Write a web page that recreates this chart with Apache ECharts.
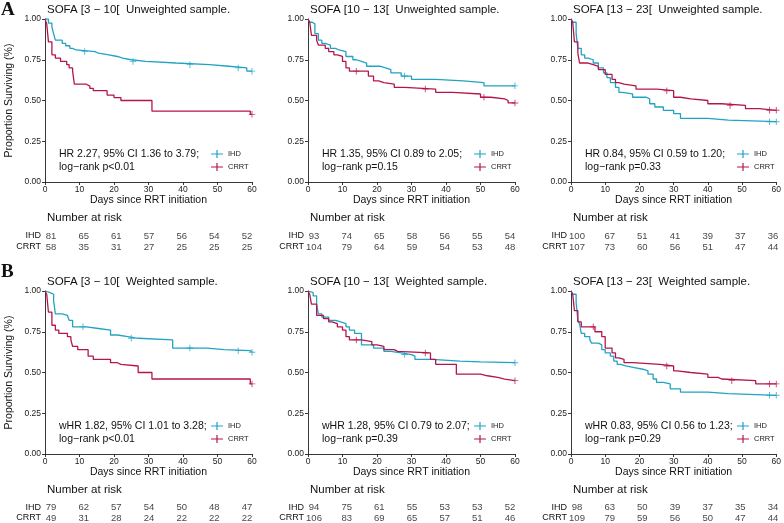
<!DOCTYPE html>
<html><head><meta charset="utf-8">
<script src="https://cdn.jsdelivr.net/npm/echarts@6/dist/echarts.min.js"></script>
<style>html,body{margin:0;padding:0;background:#fff}#c{width:784px;height:523px}</style>
</head><body><div id="c"></div>
<script>
// ---------- DATA ----------
const timeTicks = [0, 10, 20, 30, 40, 50, 60];
const groups = ['IHD', 'CRRT'];

const panelTitles = [
  'SOFA [3 \u2212 10[  Unweighted sample.',
  'SOFA [10 \u2212 13[  Unweighted sample.',
  'SOFA [13 \u2212 23[  Unweighted sample.',
  'SOFA [3 \u2212 10[  Weighted sample.',
  'SOFA [10 \u2212 13[  Weighted sample.',
  'SOFA [13 \u2212 23[  Weighted sample.'
];
const hrTexts = [
  'HR 2.27, 95% CI 1.36 to 3.79;', 'HR 1.35, 95% CI 0.89 to 2.05;', 'HR 0.84, 95% CI 0.59 to 1.20;',
  'wHR 1.82, 95% CI 1.01 to 3.28;', 'wHR 1.28, 95% CI 0.79 to 2.07;', 'wHR 0.83, 95% CI 0.56 to 1.23;'
];
const pTexts = ['log\u2212rank p<0.01', 'log\u2212rank p=0.15', 'log\u2212rank p=0.33',
                'log\u2212rank p<0.01', 'log\u2212rank p=0.39', 'log\u2212rank p=0.29'];

// Panel A1 (SOFA 3-10, unweighted)
const a1IhdT = [1, 2, 2.5, 3, 5, 6, 7.2, 8, 9, 14.5, 15.5, 18.5, 21, 22.5, 25, 29.2, 38, 47.7, 53.3, 58.5];
const a1IhdS = [0.975, 0.95, 0.91, 0.87, 0.85, 0.836, 0.82, 0.81, 0.80, 0.79, 0.78, 0.77, 0.76, 0.75, 0.74, 0.73, 0.72, 0.71, 0.70, 0.68];
const a1IhdC = [11.5, 25.5, 42, 56, 60];
const a1CrrtT = [0.5, 1, 2, 3, 4.5, 6.3, 7, 8, 8.5, 12, 13, 14, 18, 20, 22, 31, 59.5];
const a1CrrtS = [0.97, 0.86, 0.78, 0.76, 0.74, 0.72, 0.70, 0.68, 0.60, 0.588, 0.574, 0.56, 0.533, 0.518, 0.50, 0.435, 0.415];
const a1CrrtC = [60];

// Panel A2 (SOFA 10-13, unweighted)
const a2IhdT = [0.5, 1.2, 2, 3, 4, 5, 6.5, 8, 9, 11, 13, 14, 15.5, 17, 21, 22.5, 24, 27, 30, 37, 45, 51];
const a2IhdS = [0.98, 0.97, 0.91, 0.87, 0.85, 0.84, 0.82, 0.81, 0.80, 0.77, 0.75, 0.74, 0.73, 0.71, 0.70, 0.69, 0.67, 0.65, 0.63, 0.62, 0.61, 0.59];
const a2IhdC = [28, 60];
const a2CrrtT = [0.5, 1, 2.5, 3, 5, 6, 7.5, 8.5, 10, 11, 12, 17.5, 19, 20.5, 22, 25, 28, 37, 42, 50, 53, 57, 58];
const a2CrrtS = [0.98, 0.90, 0.87, 0.84, 0.82, 0.80, 0.78, 0.77, 0.74, 0.70, 0.68, 0.65, 0.62, 0.61, 0.60, 0.58, 0.57, 0.55, 0.54, 0.52, 0.51, 0.50, 0.485];
const a2CrrtC = [14, 34, 51, 60];

// Panel A3 (SOFA 13-23, unweighted)
const a3IhdT = [0.5, 1.5, 2, 3, 4, 5, 6.5, 8, 9.5, 10.5, 11.5, 13, 14, 15, 18, 22, 23, 24.5, 27, 30, 32, 40, 46];
const a3IhdS = [0.98, 0.91, 0.82, 0.78, 0.76, 0.75, 0.73, 0.70, 0.67, 0.64, 0.61, 0.58, 0.55, 0.54, 0.52, 0.51, 0.48, 0.46, 0.44, 0.42, 0.39, 0.38, 0.37];
const a3IhdC = [58, 60];
const a3CrrtT = [0.5, 1, 2, 2.5, 5, 6.5, 8, 10, 12, 13, 14, 15.5, 19, 25, 30, 32, 35, 40, 44, 51, 55];
const a3CrrtS = [0.98, 0.86, 0.79, 0.73, 0.72, 0.71, 0.69, 0.66, 0.63, 0.61, 0.60, 0.59, 0.57, 0.56, 0.52, 0.51, 0.50, 0.48, 0.47, 0.45, 0.44];
const a3CrrtC = [28, 46.5, 58, 60];

// Panel B1 (SOFA 3-10, weighted)
const b1IhdT = [0.5, 1.5, 2.5, 3, 5, 6.5, 7, 8, 12, 15.5, 19, 21, 24, 27, 37, 47, 52, 59.5];
const b1IhdS = [0.99, 0.98, 0.94, 0.86, 0.85, 0.84, 0.82, 0.78, 0.77, 0.76, 0.73, 0.72, 0.71, 0.70, 0.65, 0.64, 0.634, 0.624];
const b1IhdC = [11, 25, 42, 56, 60];
const b1CrrtT = [0.5, 1, 2, 3, 4, 6.5, 7.5, 8, 9.5, 12.5, 14, 19, 21, 22, 27, 31, 59.5];
const b1CrrtS = [0.98, 0.87, 0.79, 0.76, 0.74, 0.72, 0.70, 0.66, 0.64, 0.60, 0.58, 0.56, 0.55, 0.54, 0.50, 0.46, 0.43];
const b1CrrtC = [60];

// Panel B2 (SOFA 10-13, weighted)
const b2IhdT = [0.5, 1.5, 2.5, 3, 4, 6, 8, 9.5, 11, 12, 13.5, 15.5, 19, 22, 24, 27, 30, 31, 36, 44, 50];
const b2IhdS = [0.99, 0.97, 0.92, 0.86, 0.84, 0.82, 0.81, 0.80, 0.78, 0.76, 0.74, 0.67, 0.65, 0.63, 0.62, 0.61, 0.60, 0.58, 0.57, 0.565, 0.56];
const b2IhdC = [28, 60];
const b2CrrtT = [0.5, 1, 2.5, 4.5, 6, 7, 8.5, 10, 11, 12, 15.5, 18.5, 20, 22, 25, 26, 35.5, 37, 43, 50, 52, 55, 57];
const b2CrrtS = [0.98, 0.92, 0.85, 0.83, 0.81, 0.80, 0.78, 0.76, 0.72, 0.70, 0.69, 0.67, 0.66, 0.64, 0.63, 0.62, 0.58, 0.55, 0.49, 0.48, 0.47, 0.46, 0.45];
const b2CrrtC = [14, 34, 60];

// Panel B3 (SOFA 13-23, weighted)
const b3IhdT = [0.5, 1.5, 2, 2.5, 3, 4, 5.5, 6, 8, 9, 10, 11.5, 12.5, 13.5, 14.5, 16, 18.5, 21, 22.5, 24, 25, 27, 29, 32, 40, 46];
const b3IhdS = [0.98, 0.93, 0.82, 0.80, 0.74, 0.72, 0.70, 0.68, 0.67, 0.64, 0.62, 0.60, 0.57, 0.55, 0.54, 0.53, 0.52, 0.51, 0.49, 0.46, 0.44, 0.43, 0.40, 0.38, 0.37, 0.36];
const b3IhdC = [58, 60];
const b3CrrtT = [0.5, 1, 2, 3, 7, 9, 10, 12, 13, 14, 15.5, 18, 26, 30, 31, 35, 40, 43, 44, 54];
const b3CrrtS = [0.98, 0.88, 0.81, 0.78, 0.75, 0.72, 0.65, 0.62, 0.59, 0.58, 0.56, 0.55, 0.54, 0.51, 0.50, 0.49, 0.47, 0.46, 0.45, 0.43];
const b3CrrtC = [6.5, 28, 47, 58, 60];

// Numbers at risk (at timeTicks)
const a1RiskIhd = [81, 65, 61, 57, 56, 54, 52];
const a1RiskCrrt = [58, 35, 31, 27, 25, 25, 25];
const a2RiskIhd = [93, 74, 65, 58, 56, 55, 54];
const a2RiskCrrt = [104, 79, 64, 59, 54, 53, 48];
const a3RiskIhd = [100, 67, 51, 41, 39, 37, 36];
const a3RiskCrrt = [107, 73, 60, 56, 51, 47, 44];
const b1RiskIhd = [79, 62, 57, 54, 50, 48, 47];
const b1RiskCrrt = [49, 31, 28, 24, 22, 22, 22];
const b2RiskIhd = [94, 75, 61, 55, 53, 53, 52];
const b2RiskCrrt = [106, 83, 69, 65, 57, 51, 46];
const b3RiskIhd = [98, 63, 50, 39, 37, 35, 34];
const b3RiskCrrt = [109, 79, 59, 56, 50, 47, 44];

// ---------- BUILD ----------
const curves = [
  [[a1IhdT, a1IhdS, a1IhdC], [a1CrrtT, a1CrrtS, a1CrrtC]],
  [[a2IhdT, a2IhdS, a2IhdC], [a2CrrtT, a2CrrtS, a2CrrtC]],
  [[a3IhdT, a3IhdS, a3IhdC], [a3CrrtT, a3CrrtS, a3CrrtC]],
  [[b1IhdT, b1IhdS, b1IhdC], [b1CrrtT, b1CrrtS, b1CrrtC]],
  [[b2IhdT, b2IhdS, b2IhdC], [b2CrrtT, b2CrrtS, b2CrrtC]],
  [[b3IhdT, b3IhdS, b3IhdC], [b3CrrtT, b3CrrtS, b3CrrtC]]
];
const risks = [
  [a1RiskIhd, a1RiskCrrt], [a2RiskIhd, a2RiskCrrt], [a3RiskIhd, a3RiskCrrt],
  [b1RiskIhd, b1RiskCrrt], [b2RiskIhd, b2RiskCrrt], [b3RiskIhd, b3RiskCrrt]
];

const colors = ['#21A3C3', '#B5164A'];
const FONT = 'Liberation Sans, Arial, sans-serif';
const plotLefts = [45, 308, 571];
const plotW = 207;
const rowTops = [19, 291];
const plotH = 163;

function stepData(t, s) {
  const d = [[0, 1]]; let prev = 1;
  for (let i = 0; i < t.length; i++) { d.push([t[i], prev]); d.push([t[i], s[i]]); prev = s[i]; }
  d.push([60, prev]);
  return d;
}
function survAt(t, s, x) { let v = 1; for (let i = 0; i < t.length; i++) if (t[i] <= x) v = s[i]; return v; }

const plusPath = 'path://M4.3,0H5.7V4.3H10V5.7H5.7V10H4.3V5.7H0V4.3H4.3Z';
const legendIcon = 'path://M0,4.4H12V5.6H0Z M5.4,1H6.6V9H5.4Z';

const grids = new Array(12), xAxes = new Array(12), yAxes = new Array(12);
const series = [], legends = [], titles = [], graphics = [];

for (let p = 0; p < 6; p++) {
  const col = p % 3, row = Math.floor(p / 3);
  const L = plotLefts[col], T = rowTops[row];
  grids[p] = { left: L, top: T, width: plotW, height: plotH };
  xAxes[p] = {
    gridIndex: p, type: 'value', min: 0, max: 60, interval: 10,
    name: 'Days since RRT initiation', nameLocation: 'middle', nameGap: 12,
    nameTextStyle: { fontFamily: FONT, fontSize: 10.5, color: '#111' },
    axisLine: { lineStyle: { color: '#222', width: 0.9 } },
    axisTick: { length: 3, lineStyle: { color: '#222', width: 0.9 } },
    axisLabel: { fontFamily: FONT, fontSize: 8.5, color: '#222', margin: 3 },
    splitLine: { show: false }
  };
  yAxes[p] = {
    gridIndex: p, type: 'value', min: 0, max: 1, interval: 0.25,
    name: col === 0 ? 'Proportion Surviving (%)' : '', nameLocation: 'middle', nameGap: 30,
    nameTextStyle: { fontFamily: FONT, fontSize: 10.5, color: '#111' },
    axisLine: { show: true, lineStyle: { color: '#222', width: 0.9 } },
    axisTick: { show: true, length: 3, lineStyle: { color: '#222', width: 0.9 } },
    axisLabel: { fontFamily: FONT, fontSize: 8.5, color: '#222', margin: 4, formatter: v => v.toFixed(2) },
    splitLine: { show: false }
  };
  for (let g = 0; g < 2; g++) {
    const [t, s, c] = curves[p][g];
    series.push({
      name: groups[g], type: 'line', xAxisIndex: p, yAxisIndex: p,
      data: stepData(t, s), showSymbol: false, symbol: 'none', silent: true,
      lineStyle: { color: colors[g], width: 1.3 }, itemStyle: { color: colors[g] }, z: 3 + g
    });
    series.push({
      name: groups[g] + ' censored', type: 'scatter', xAxisIndex: p, yAxisIndex: p,
      data: c.map(x => [x, survAt(t, s, x)]), symbol: plusPath, symbolSize: 6.5, silent: true,
      itemStyle: { color: colors[g] }, z: 5
    });
  }
  const rg = 6 + p;
  grids[rg] = { left: L + 6, top: T + 211.5, width: 196, height: 22 };
  xAxes[rg] = { gridIndex: rg, type: 'value', min: 0, max: 60, interval: 10, show: false };
  yAxes[rg] = {
    gridIndex: rg, type: 'category', data: groups, inverse: true,
    axisLine: { show: false }, axisTick: { show: false }, splitLine: { show: false },
    axisLabel: { interval: 0, fontFamily: FONT, fontSize: 9, color: '#111', margin: 10 }
  };
  for (let g = 0; g < 2; g++) {
    series.push({
      name: groups[g] + ' at risk', type: 'scatter', xAxisIndex: rg, yAxisIndex: rg,
      data: timeTicks.map((x, i) => [x, groups[g], risks[p][g][i]]),
      symbolSize: 0, silent: true,
      label: { show: true, position: 'inside', formatter: d => String(d.value[2]),
               fontFamily: FONT, fontSize: 9.5, color: '#111' }
    });
  }
  legends.push({
    data: groups, left: L + 166, top: T + 131, orient: 'vertical', itemGap: 5, padding: 0,
    itemWidth: 12, itemHeight: 8, icon: legendIcon, selectedMode: false,
    textStyle: { fontFamily: FONT, fontSize: 7.5, color: '#222' }
  });
  titles.push({ text: panelTitles[p], left: L + 2, top: T - 15, padding: 0,
                textStyle: { fontFamily: FONT, fontSize: 11.5, fontWeight: 'normal', color: '#111' } });
  titles.push({ text: 'Number at risk', left: L + 2, top: T + 193, padding: 0,
                textStyle: { fontFamily: FONT, fontSize: 11.5, fontWeight: 'normal', color: '#111' } });
  graphics.push({ type: 'text', left: L + 14, top: T + 129,
    style: { text: hrTexts[p] + '\n' + pTexts[p], font: '10.5px ' + FONT, fill: '#111', lineHeight: 13 } });
}
titles.push({ text: 'A', left: 1, top: 1, padding: 0, textStyle: { fontFamily: 'Liberation Serif, serif', fontSize: 19, fontWeight: 'bold', color: '#111' } });
titles.push({ text: 'B', left: 1, top: 263, padding: 0, textStyle: { fontFamily: 'Liberation Serif, serif', fontSize: 19, fontWeight: 'bold', color: '#111' } });

const chart = echarts.init(document.getElementById('c'), null, { renderer: 'canvas' });
chart.setOption({
  animation: false, backgroundColor: '#fff',
  title: titles, legend: legends, grid: grids, xAxis: xAxes, yAxis: yAxes,
  series: series, graphic: graphics
});
</script></body></html>
